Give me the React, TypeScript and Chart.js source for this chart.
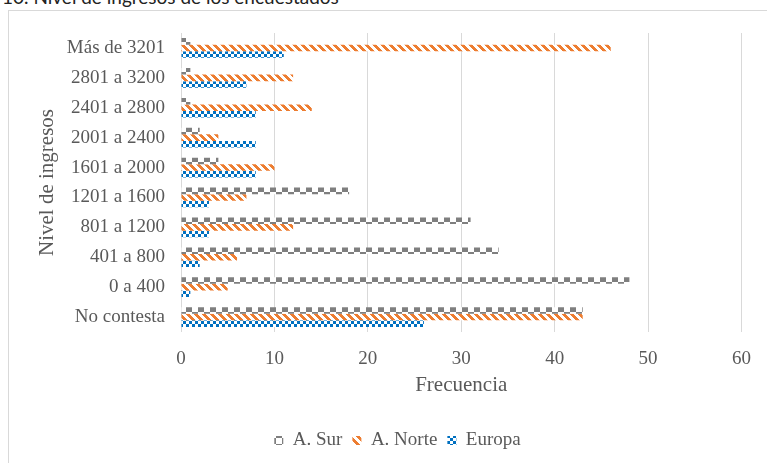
import React, { useEffect, useRef } from 'react';
import { Chart, registerables } from 'chart.js';

Chart.register(...registerables);

const categories = [
  'Más de 3201',
  '2801 a 3200',
  '2401 a 2800',
  '2001 a 2400',
  '1601 a 2000',
  '1201 a 1600',
  '801 a 1200',
  '401 a 800',
  '0 a 400',
  'No contesta',
];
const seriesNames = ['A. Sur', 'A. Norte', 'Europa'];
const surValues = [1, 1, 1, 2, 4, 18, 31, 34, 48, 43];
const norteValues = [46, 12, 14, 4, 10, 7, 12, 6, 5, 43];
const europaValues = [11, 7, 8, 8, 8, 3, 3, 2, 1, 26];
const xMin = 0;
const xMax = 60;
const xStep = 10;

const TEXT = '#595959';
const SERIF = '"Liberation Serif", "Times New Roman", serif';

function makePattern(size: number, color: string, test: (x: number, y: number) => boolean) {
  const c = document.createElement('canvas');
  c.width = size;
  c.height = size;
  const ctx = c.getContext('2d')!;
  ctx.fillStyle = '#ffffff';
  ctx.fillRect(0, 0, size, size);
  ctx.fillStyle = color;
  for (let y = 0; y < size; y++) {
    for (let x = 0; x < size; x++) {
      if (test(x, y)) ctx.fillRect(x, y, 1, 1);
    }
  }
  return ctx.createPattern(c, 'repeat')!;
}

const legendShift = {
  id: 'legendShift',
  afterLayout(chart: any) {
    const lg = chart.legend;
    if (lg) {
      lg.left += 22;
      lg.right += 22;
    }
  },
};

export default function App() {
  const ref = useRef<HTMLCanvasElement>(null);

  useEffect(() => {
    const canvas = ref.current!;
    const surPat = makePattern(12, '#7f7f7f', (x, y) => (Math.floor(x / 6) + Math.floor(y / 6)) % 2 === 0);
    const nortePat = makePattern(8, '#ED7D31', (x, y) => (((x - y) % 8) + 8) % 8 < 4);
    const europaPat = makePattern(6, '#0070C0', (x, y) => (Math.floor(x / 3) + Math.floor(y / 3)) % 2 === 0);

    const chart = new Chart(canvas, {
      type: 'bar',
      data: {
        labels: categories,
        datasets: [
          { label: seriesNames[0], data: surValues, backgroundColor: surPat as any, borderWidth: 0 },
          { label: seriesNames[1], data: norteValues, backgroundColor: nortePat as any, borderWidth: 0 },
          { label: seriesNames[2], data: europaValues, backgroundColor: europaPat as any, borderWidth: 0 },
        ],
      },
      plugins: [legendShift],
      options: {
        indexAxis: 'y',
        responsive: false,
        animation: false,
        devicePixelRatio: 1,
        datasets: { bar: { categoryPercentage: 0.66, barPercentage: 1 } },
        layout: { padding: { top: 33, left: 8, right: 24, bottom: 3 } },
        scales: {
          x: {
            min: xMin,
            max: xMax,
            ticks: { stepSize: xStep, color: TEXT, font: { family: SERIF, size: 19 }, padding: 16 },
            grid: { color: '#d9d9d9', drawTicks: false },
            border: { display: false },
            title: {
              display: true,
              text: 'Frecuencia',
              color: TEXT,
              font: { family: SERIF, size: 21 },
              padding: { top: 23, bottom: 23 },
            },
            afterFit: (s: any) => {
              s.height = 89;
            },
          },
          y: {
            ticks: { color: TEXT, font: { family: SERIF, size: 19 }, padding: 16 },
            grid: { display: false, drawTicks: false },
            border: { display: false },
            title: {
              display: true,
              text: 'Nivel de ingresos',
              color: TEXT,
              font: { family: SERIF, size: 21 },
              padding: { top: 27, bottom: 27 },
            },
            afterFit: (s: any) => {
              s.width = 173;
            },
          },
        },
        plugins: {
          legend: {
            position: 'bottom',
            labels: { boxWidth: 9, boxHeight: 9, color: TEXT, font: { family: SERIF, size: 19 }, padding: 10 },
          },
          tooltip: { enabled: false },
        },
      },
    });
    return () => chart.destroy();
  }, []);

  return (
    <div style={{ position: 'absolute', left: 0, top: 0, width: 767, height: 463, overflow: 'hidden', background: '#fff' }}>
      <div
        style={{
          position: 'absolute',
          left: 2,
          top: -13,
          fontFamily: 'Lato, "Open Sans", sans-serif',
          fontSize: 19,
          lineHeight: '19px',
          color: '#222',
          whiteSpace: 'nowrap',
        }}
      >
        10. Nivel de ingresos de los encuestados
      </div>
      <div
        style={{
          position: 'absolute',
          left: 8,
          top: 10,
          width: 759,
          height: 453,
          boxSizing: 'border-box',
          borderLeft: '1px solid #d9d9d9',
          borderTop: '1px solid #d9d9d9',
        }}
      />
      <canvas ref={ref} width={767} height={463} style={{ position: 'absolute', left: 0, top: 0, width: 767, height: 463 }} />
    </div>
  );
}
